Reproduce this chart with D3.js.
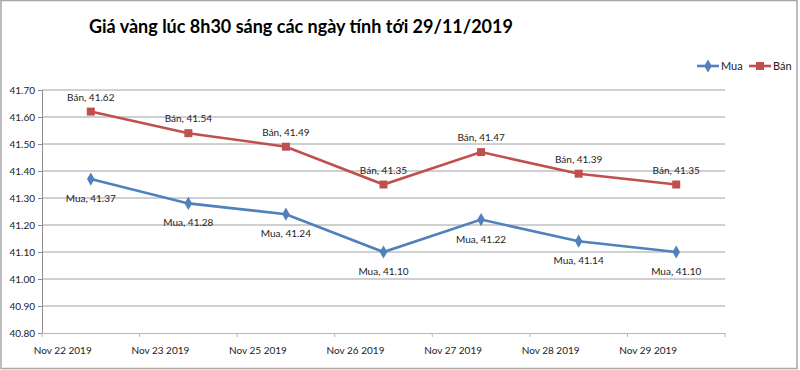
<!DOCTYPE html>
<html>
<head>
<meta charset="utf-8">
<script src="https://cdn.jsdelivr.net/npm/d3@7"></script>
<style>
  body { margin: 0; background: #fff; }
  svg { display: block; font-family: Lato, "Open Sans", sans-serif; }
</style>
</head>
<body>
<div id="chart"></div>
<script>
// data
var dates = ["Nov 22 2019", "Nov 23 2019", "Nov 25 2019", "Nov 26 2019", "Nov 27 2019", "Nov 28 2019", "Nov 29 2019"];
var muaValues = [41.37, 41.28, 41.24, 41.10, 41.22, 41.14, 41.10];
var banValues = [41.62, 41.54, 41.49, 41.35, 41.47, 41.39, 41.35];
var yTicks = [40.80, 40.90, 41.00, 41.10, 41.20, 41.30, 41.40, 41.50, 41.60, 41.70];
var chartTitle = "Giá vàng lúc 8h30 sáng các ngày tính tới 29/11/2019";

(function () {
    var width = 800, height = 370;
    var plot = { left: 42, right: 725, top: 90, bottom: 333 };

    var svg = d3.select("#chart").append("svg")
        .attr("width", width)
        .attr("height", height);

    // outer frame
    svg.append("rect")
        .attr("x", 1).attr("y", 0.5)
        .attr("width", 796).attr("height", 368)
        .attr("fill", "#fff")
        .attr("stroke", "#a6a6a6")
        .attr("stroke-width", 1.5);

    // title
    svg.append("text")
        .attr("x", 89)
        .attr("y", 33)
        .attr("font-size", 18)
        .attr("font-weight", "bold")
        .attr("fill", "#000")
        .text(chartTitle);

    var xScale = d3.scaleBand()
        .domain(dates)
        .range([plot.left, plot.right]);

    var yScale = d3.scaleLinear()
        .domain([d3.min(yTicks), d3.max(yTicks)])
        .range([plot.bottom, plot.top]);

    // gridlines
    svg.append("g")
        .selectAll("line")
        .data(yTicks.slice(1))
        .join("line")
        .attr("x1", plot.left)
        .attr("x2", plot.right)
        .attr("y1", d => yScale(d))
        .attr("y2", d => yScale(d))
        .attr("stroke", "#a0a0a0")
        .attr("stroke-width", 1);

    // y axis
    var yAxis = svg.append("g")
        .attr("transform", `translate(${plot.left}, 0)`)
        .call(d3.axisLeft(yScale).tickValues(yTicks).tickFormat(d3.format(".2f")).tickSize(4));
    yAxis.select(".domain").attr("stroke", "#8c8c8c");
    yAxis.selectAll(".tick line").attr("stroke", "#8c8c8c");
    yAxis.selectAll("text")
        .attr("font-size", 10)
        .attr("fill", "#222")
        .attr("font-family", "Lato, sans-serif");

    // x axis
    var xAxis = svg.append("g")
        .attr("transform", `translate(0, ${plot.bottom})`)
        .call(d3.axisBottom(xScale).tickSize(0).tickPadding(14));
    xAxis.select(".domain").attr("stroke", "#7fcfcf").attr("stroke-width", 1.2);
    xAxis.selectAll("text")
        .attr("font-size", 10)
        .attr("fill", "#222")
        .attr("font-family", "Lato, sans-serif")
        .attr("dx", -28);

    // tick marks at band edges
    var edges = dates.map(d => xScale(d)).concat([plot.right]);
    svg.append("g")
        .selectAll("line")
        .data(edges)
        .join("line")
        .attr("x1", d => d).attr("x2", d => d)
        .attr("y1", plot.bottom).attr("y2", plot.bottom + 4)
        .attr("stroke", "#b8b8b8");

    var cx = d => xScale(d) + xScale.bandwidth() / 2;

    var series = [
        { name: "Mua", values: muaValues, color: "#4f81bd", symbol: d3.symbolDiamond, size: 50, labelDy: 23 },
        { name: "Bán", values: banValues, color: "#c0504d", symbol: d3.symbolSquare, size: 64, labelDy: -11 }
    ];

    var line = d3.line()
        .x(d => cx(d.date))
        .y(d => yScale(d.value));

    series.forEach(s => {
        var pts = dates.map((d, i) => ({ date: d, value: s.values[i] }));
        var g = svg.append("g");

        g.append("path")
            .datum(pts)
            .attr("d", line)
            .attr("fill", "none")
            .attr("stroke", s.color)
            .attr("stroke-width", 2.6);

        g.selectAll("path.marker")
            .data(pts)
            .join("path")
            .attr("class", "marker")
            .attr("d", d3.symbol().type(s.symbol).size(s.size))
            .attr("transform", d => `translate(${cx(d.date)}, ${yScale(d.value)})`)
            .attr("fill", s.color);

        // data labels
        g.selectAll("text")
            .data(pts)
            .join("text")
            .attr("x", d => cx(d.date))
            .attr("y", d => yScale(d.value) + s.labelDy)
            .attr("text-anchor", "middle")
            .attr("font-size", 10)
            .attr("fill", "#222")
            .text(d => `${s.name}, ${d.value.toFixed(2)}`);
    });

    // legend
    var legend = svg.append("g").attr("transform", "translate(697, 66)");
    series.forEach((s, i) => {
        var lg = legend.append("g").attr("transform", `translate(${i * 52}, 0)`);
        lg.append("line")
            .attr("x1", 0).attr("x2", 22)
            .attr("y1", 0).attr("y2", 0)
            .attr("stroke", s.color)
            .attr("stroke-width", 2.6);
        lg.append("path")
            .attr("d", d3.symbol().type(s.symbol).size(s.size))
            .attr("transform", "translate(11, 0)")
            .attr("fill", s.color);
        lg.append("text")
            .attr("x", 24)
            .attr("y", 4)
            .attr("font-size", 11)
            .attr("fill", "#222")
            .text(s.name);
    });
})();
</script>
</body>
</html>
